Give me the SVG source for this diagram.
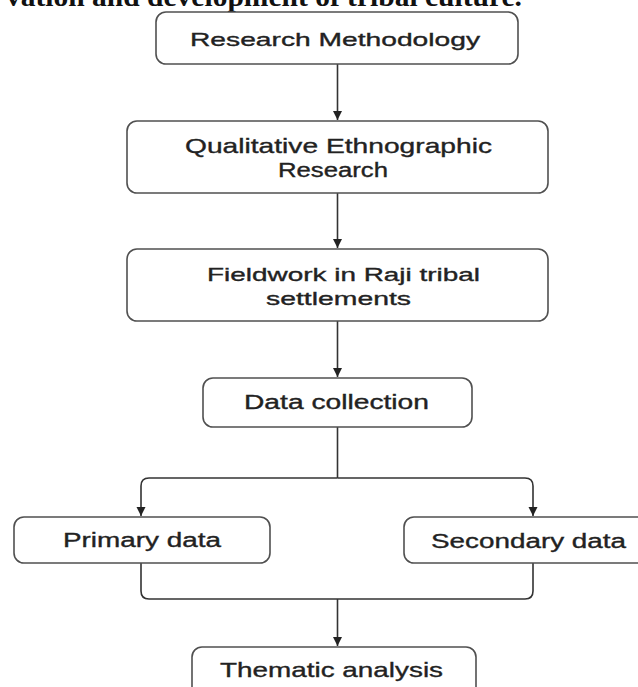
<svg xmlns="http://www.w3.org/2000/svg" width="638" height="687" viewBox="0 0 638 687">
  <style>
    .box { fill: #ffffff; stroke: #505050; stroke-width: 1.6; }
    .lbl { font-family: "Liberation Sans", Arial, sans-serif; fill: #222222; stroke: #222222; stroke-width: 0.35; }
    .conn { fill: none; stroke: #333333; stroke-width: 1.6; }
    .title { font-family: "Liberation Serif", "Times New Roman", serif; font-weight: bold; fill: #111111; }
  </style>
  <defs>
    <marker id="arrow" markerUnits="userSpaceOnUse" markerWidth="10" markerHeight="10" refX="9" refY="5" orient="auto">
      <path d="M0,0.5 L9,5 L0,9.5 z" fill="#222222"/>
    </marker>
  </defs>
  <rect width="638" height="687" fill="#ffffff"/>

  <text class="title" x="6" y="6" font-size="27" textLength="516" lengthAdjust="spacingAndGlyphs">vation and development of tribal culture.</text>

  <g id="connectors">
    <path class="conn" d="M337.5,64 V120" marker-end="url(#arrow)"/>
    <path class="conn" d="M337.5,193 V248" marker-end="url(#arrow)"/>
    <path class="conn" d="M337.5,321 V377" marker-end="url(#arrow)"/>
    <path class="conn" d="M337.5,427 V478"/>
    <path class="conn" d="M337.5,478 H149 Q141,478 141,486 V516" marker-end="url(#arrow)"/>
    <path class="conn" d="M337.5,478 H525 Q533,478 533,486 V516" marker-end="url(#arrow)"/>
    <path class="conn" d="M141,563 V591 Q141,599 149,599 H525 Q533,599 533,591 V563"/>
    <path class="conn" d="M337.5,599 V646" marker-end="url(#arrow)"/>
  </g>

  <g id="research-methodology">
    <rect class="box" x="156" y="12" width="362" height="52" rx="10"/>
    <text class="lbl" x="190" y="46" font-size="19" textLength="290" lengthAdjust="spacingAndGlyphs">Research Methodology</text>
  </g>

  <g id="qualitative-ethnographic-research">
    <rect class="box" x="127" y="121" width="421" height="72" rx="10"/>
    <text class="lbl" x="185" y="153" font-size="21" textLength="307" lengthAdjust="spacingAndGlyphs">Qualitative Ethnographic</text>
    <text class="lbl" x="278" y="177" font-size="20" textLength="110" lengthAdjust="spacingAndGlyphs">Research</text>
  </g>

  <g id="fieldwork">
    <rect class="box" x="127" y="249" width="421" height="72" rx="10"/>
    <text class="lbl" x="207" y="281" font-size="19" textLength="273" lengthAdjust="spacingAndGlyphs">Fieldwork in Raji tribal</text>
    <text class="lbl" x="266" y="305" font-size="19" textLength="145" lengthAdjust="spacingAndGlyphs">settlements</text>
  </g>

  <g id="data-collection">
    <rect class="box" x="203" y="378" width="269" height="49" rx="10"/>
    <text class="lbl" x="244" y="409" font-size="20" textLength="185" lengthAdjust="spacingAndGlyphs">Data collection</text>
  </g>

  <g id="primary-data">
    <rect class="box" x="14" y="517" width="256" height="46" rx="10"/>
    <text class="lbl" x="63" y="547" font-size="20" textLength="158" lengthAdjust="spacingAndGlyphs">Primary data</text>
  </g>

  <g id="secondary-data">
    <rect class="box" x="404" y="517" width="260" height="46" rx="10"/>
    <text class="lbl" x="431" y="548" font-size="20" textLength="195" lengthAdjust="spacingAndGlyphs">Secondary data</text>
  </g>

  <g id="thematic-analysis">
    <rect class="box" x="192" y="647" width="284" height="60" rx="10"/>
    <text class="lbl" x="220" y="677" font-size="21" textLength="223" lengthAdjust="spacingAndGlyphs">Thematic analysis</text>
  </g>
</svg>
